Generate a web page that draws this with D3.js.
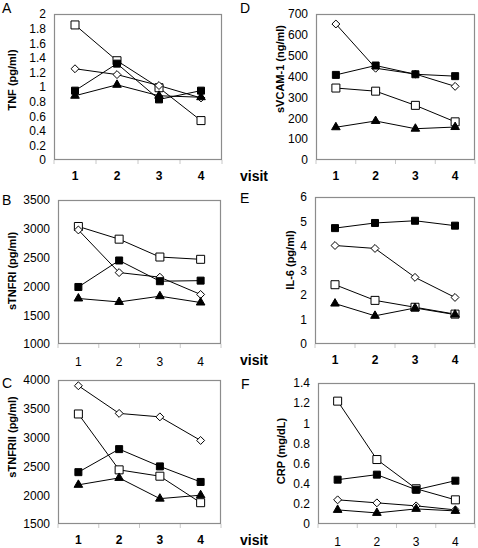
<!DOCTYPE html>
<html>
<head>
<meta charset="utf-8">
<script src="https://cdn.jsdelivr.net/npm/d3@7"></script>
<style>
  html, body { margin: 0; padding: 0; background: #fff; }
  svg { display: block; font-family: "Liberation Sans", Arial, sans-serif; }
</style>
</head>
<body>
<svg id="chart" width="478" height="548"></svg>
<script>
// ---- data ----
const visits = ["1", "2", "3", "4"];
const seriesNames = ["openSquare", "openDiamond", "filledSquare", "filledTriangle"];

// TNF (pg/ml)
const tnfOpenSquare = [1.85, 1.36, 0.99, 0.54];
const tnfOpenDiamond = [1.25, 1.17, 1.02, 0.85];
const tnfFilledSquare = [0.95, 1.32, 0.83, 0.95];
const tnfTriangle = [0.88, 1.03, 0.88, 0.86];

// sTNFRI (pg/ml)
const rIOpenSquare = [3040, 2820, 2510, 2470];
const rIOpenDiamond = [2980, 2240, 2160, 1860];
const rIFilledSquare = [1990, 2450, 2090, 2100];
const rITriangle = [1790, 1730, 1830, 1720];

// sTNFRII (pg/ml)
const rIIOpenSquare = [3410, 2440, 2330, 1870];
const rIIOpenDiamond = [3900, 3420, 3360, 2950];
const rIIFilledSquare = [2400, 2800, 2500, 2230];
const rIITriangle = [2180, 2300, 1940, 2000];

// sVCAM-1 (ng/ml)
const vcamOpenSquare = [345, 330, 262, 183];
const vcamOpenDiamond = [652, 440, 412, 353];
const vcamFilledSquare = [408, 453, 411, 402];
const vcamTriangle = [157, 187, 150, 158];

// IL-6 (pg/ml)
const il6OpenSquare = [2.42, 1.78, 1.5, 1.22];
const il6OpenDiamond = [4.02, 3.9, 2.72, 1.9];
const il6FilledSquare = [4.73, 4.94, 5.03, 4.83];
const il6Triangle = [1.65, 1.15, 1.47, 1.2];

// CRP (mg/dL)
const crpOpenSquare = [1.22, 0.64, 0.35, 0.24];
const crpOpenDiamond = [0.24, 0.21, 0.18, 0.14];
const crpFilledSquare = [0.44, 0.49, 0.34, 0.43];
const crpTriangle = [0.14, 0.11, 0.15, 0.13];

// tick labels
const tnfTicks = [0, 0.2, 0.4, 0.6, 0.8, 1, 1.2, 1.4, 1.6, 1.8, 2];
const rITicks = [1000, 1500, 2000, 2500, 3000, 3500];
const rIITicks = [1500, 2000, 2500, 3000, 3500, 4000];
const vcamTicks = [0, 100, 200, 300, 400, 500, 600, 700];
const il6Ticks = [0, 1, 2, 3, 4, 5, 6];
const crpTicks = [0, 0.2, 0.4, 0.6, 0.8, 1, 1.2, 1.4];

// ---- layout ----
const panels = [
  { letter: "A", title: "TNF (pg/ml)", box: [54, 222, 14, 160], ticks: tnfTicks,
    data: [tnfOpenSquare, tnfOpenDiamond, tnfFilledSquare, tnfTriangle],
    letterPos: [2, 13], titlePos: [12, 80], boldX: true, visit: false },
  { letter: "D", title: "sVCAM-1 (ng/ml)", box: [316, 475, 14, 160], ticks: vcamTicks,
    data: [vcamOpenSquare, vcamOpenDiamond, vcamFilledSquare, vcamTriangle],
    letterPos: [240, 13], titlePos: [280, 69], boldX: true, visit: true },
  { letter: "B", title: "sTNFRI (pg/ml)", box: [58, 221, 200, 344], ticks: rITicks,
    data: [rIOpenSquare, rIOpenDiamond, rIFilledSquare, rITriangle],
    letterPos: [2, 205], titlePos: [12, 271], boldX: false, visit: false },
  { letter: "E", title: "IL-6 (pg/ml)", box: [315, 475, 197, 344], ticks: il6Ticks,
    data: [il6OpenSquare, il6OpenDiamond, il6FilledSquare, il6Triangle],
    letterPos: [240, 203], titlePos: [290, 260], boldX: true, visit: true },
  { letter: "C", title: "sTNFRII (pg/ml)", box: [58, 221, 380, 524], ticks: rIITicks,
    data: [rIIOpenSquare, rIIOpenDiamond, rIIFilledSquare, rIITriangle],
    letterPos: [2, 388], titlePos: [12, 437], boldX: true, visit: false },
  { letter: "F", title: "CRP (mg/dL)", box: [318, 475, 383, 524], ticks: crpTicks,
    data: [crpOpenSquare, crpOpenDiamond, crpFilledSquare, crpTriangle],
    letterPos: [241, 389], titlePos: [281, 451], boldX: false, visit: true }
];

const svg = d3.select("#chart");
const fmt = v => String(+v.toFixed(2));

const symbols = {
  openSquare: { type: d3.symbolSquare, size: 64, fill: "#fff" },
  openDiamond: { type: d3.symbolDiamond2, size: 40, fill: "#fff" },
  filledSquare: { type: d3.symbolSquare, size: 49, fill: "#000" },
  filledTriangle: { type: d3.symbolTriangle, size: 32, fill: "#000" }
};

panels.forEach(p => {
  const [x0, x1, y0, y1] = p.box;
  const ticks = p.ticks;
  const x = d3.scaleBand().domain(visits).range([x0, x1]).padding(0);
  const y = d3.scaleLinear().domain([ticks[0], ticks[ticks.length - 1]]).range([y1, y0]);
  const g = svg.append("g");

  // band boundary ticks below the bottom edge
  const bounds = visits.map(v => x(v)).concat([x1]);
  g.selectAll("line.bt").data(bounds).enter().append("line")
    .attr("x1", d => d).attr("x2", d => d)
    .attr("y1", y1).attr("y2", y1 + 4)
    .attr("stroke", "#c8c8c8").attr("stroke-width", 1);

  // plot box
  g.append("rect")
    .attr("x", x0 + 0.5).attr("y", y0 + 0.5)
    .attr("width", x1 - x0 - 1).attr("height", y1 - y0 - 1)
    .attr("fill", "none").attr("stroke", "#8c8c8c").attr("stroke-width", 1.2);

  // y axis labels
  const ya = d3.axisLeft(y).tickValues(ticks).tickSize(0).tickPadding(8).tickFormat(fmt);
  const yg = g.append("g").attr("transform", `translate(${x0},0)`).call(ya);
  yg.select(".domain").remove();
  yg.selectAll("text").attr("font-size", 12).attr("fill", "#000")
    .attr("font-family", "'Liberation Sans', Arial, sans-serif");

  // x axis labels
  const xa = d3.axisBottom(x).tickSize(0).tickPadding(p.boldX ? 11 : 13);
  const xg = g.append("g").attr("transform", `translate(0,${y1})`).call(xa);
  xg.select(".domain").remove();
  xg.selectAll("text").attr("font-size", 12).attr("fill", "#000")
    .attr("font-weight", p.boldX ? "bold" : "normal")
    .attr("font-family", "'Liberation Sans', Arial, sans-serif");

  // y title
  g.append("text")
    .attr("transform", `translate(${p.titlePos[0]},${p.titlePos[1]}) rotate(-90)`)
    .attr("text-anchor", "middle").attr("dominant-baseline", "central")
    .attr("font-size", 11).attr("font-weight", "bold").text(p.title);

  // panel letter
  g.append("text").attr("x", p.letterPos[0]).attr("y", p.letterPos[1])
    .attr("font-size", 14).text(p.letter);

  if (p.visit) {
    g.append("text").attr("x", 240).attr("y", y1 + 21)
      .attr("font-size", 14).attr("font-weight", "bold").text("visit");
  }

  const line = d3.line().x((d, i) => x(visits[i]) + x.bandwidth() / 2).y(d => y(d));
  p.data.forEach(arr => {
    g.append("path").datum(arr).attr("d", line)
      .attr("fill", "none").attr("stroke", "#000").attr("stroke-width", 1);
  });
  p.data.forEach((arr, si) => {
    const s = symbols[seriesNames[si]];
    g.selectAll(null).data(arr).enter().append("path")
      .attr("d", d3.symbol().type(s.type).size(s.size))
      .attr("transform", (d, i) => `translate(${x(visits[i]) + x.bandwidth() / 2},${y(d)})`)
      .attr("fill", s.fill).attr("stroke", "#000").attr("stroke-width", 1);
  });
});
</script>
</body>
</html>
